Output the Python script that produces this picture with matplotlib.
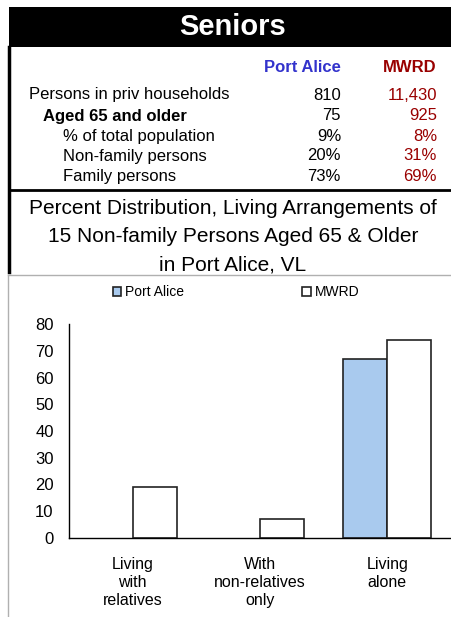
import numpy as np
import matplotlib.pyplot as plt
from matplotlib.patches import Rectangle
from matplotlib.lines import Line2D

plt.rcParams['font.family'] = ['Liberation Sans', 'DejaVu Sans']

# table data
row_labels = ['Persons in priv households', 'Aged 65 and older', '% of total population',
              'Non-family persons', 'Family persons']
port_alice_vals = ['810', '75', '9%', '20%', '73%']
mwrd_vals = ['11,430', '925', '8%', '31%', '69%']

# chart data
categories = ['Living\nwith\nrelatives', 'With\nnon-relatives\nonly', 'Living\nalone']
port_alice_pct = [0, 0, 67]
mwrd_pct = [19, 7, 74]
yticks = [0, 10, 20, 30, 40, 50, 60, 70, 80]

W, H = 451, 617
fig = plt.figure(figsize=(W / 100, H / 100), dpi=100)

def fx(px):
    return px / W

def fy(py):
    return 1 - py / H

# title band
fig.patches.append(Rectangle((fx(9), fy(47)), fx(451 - 9), (47 - 7) / H,
                             transform=fig.transFigure, facecolor='black', edgecolor='none'))
fig.text(fx(233), fy(27), 'Seniors', color='white', fontsize=21, fontweight='bold',
         ha='center', va='center')

# box borders
fig.lines.append(Line2D([fx(9), fx(9)], [fy(47), fy(272)], transform=fig.transFigure,
                        color='black', lw=2.5))
fig.lines.append(Line2D([fx(9), fx(451)], [fy(190), fy(190)], transform=fig.transFigure,
                        color='black', lw=2))
fig.lines.append(Line2D([fx(8), fx(451)], [fy(275), fy(275)], transform=fig.transFigure,
                        color='#b0b0b0', lw=1))
fig.lines.append(Line2D([fx(8), fx(8)], [fy(275), fy(617)], transform=fig.transFigure,
                        color='#b0b0b0', lw=1))

# table header
fig.text(fx(341), fy(67), 'Port Alice', color='#3333cc', fontsize=12, fontweight='bold',
         ha='right', va='center')
fig.text(fx(437), fy(67), 'MWRD', color='#990000', fontsize=12, fontweight='bold',
         ha='right', va='center')

row_y = [95, 116, 136, 156, 177]
row_x = [29, 43, 63, 63, 63]
for i, lab in enumerate(row_labels):
    fw = 'bold' if i == 1 else 'normal'
    fig.text(fx(row_x[i]), fy(row_y[i]), lab, fontsize=12, fontweight=fw,
             ha='left', va='center', color='black')
    fig.text(fx(341), fy(row_y[i]), port_alice_vals[i], fontsize=12,
             ha='right', va='center', color='black')
    fig.text(fx(437), fy(row_y[i]), mwrd_vals[i], fontsize=12,
             ha='right', va='center', color='#990000')

# subtitle
sub = ['Percent Distribution, Living Arrangements of',
       '15 Non-family Persons Aged 65 & Older',
       'in Port Alice, VL']
for i, s in enumerate(sub):
    fig.text(fx(233), fy(208 + 28.5 * i), s, fontsize=15, ha='center', va='center',
             color='black')

# bar chart
ax = fig.add_axes([fx(69), fy(538), fx(451 - 69), (538 - 324) / H])
x = np.arange(len(categories))
bw = 0.345
b1 = ax.bar(x - bw / 2, port_alice_pct, bw, color='#a9caee', edgecolor='#222222', lw=1.2,
            label='Port Alice')
b2 = ax.bar(x + bw / 2, mwrd_pct, bw, color='white', edgecolor='#222222', lw=1.2,
            label='MWRD')
ax.set_xlim(-0.5, 2.5)
ax.set_ylim(0, 80)
ax.set_yticks(yticks)
ax.set_xticks(x)
ax.set_xticklabels(categories, fontsize=11.5, linespacing=1.25)
ax.tick_params(axis='y', labelsize=12, length=0, pad=11)
ax.tick_params(axis='x', length=0, pad=14)
for s in ['top', 'right']:
    ax.spines[s].set_visible(False)
ax.spines['left'].set_linewidth(1)
ax.spines['bottom'].set_linewidth(1)
ax.spines['left'].set_color('black')
ax.spines['bottom'].set_color('black')

leg = fig.legend(loc='center', bbox_to_anchor=(fx(236), fy(292)), ncol=2, frameon=False,
                 fontsize=10, handlelength=0.6, handleheight=0.6, handletextpad=0.3,
                 columnspacing=8.5)

# empty bars get no outline (after legend so handles keep their edge)
for bars in (b1, b2):
    for r in bars:
        if r.get_height() == 0:
            r.set_linewidth(0)

fig.savefig('out.png', dpi=100)
